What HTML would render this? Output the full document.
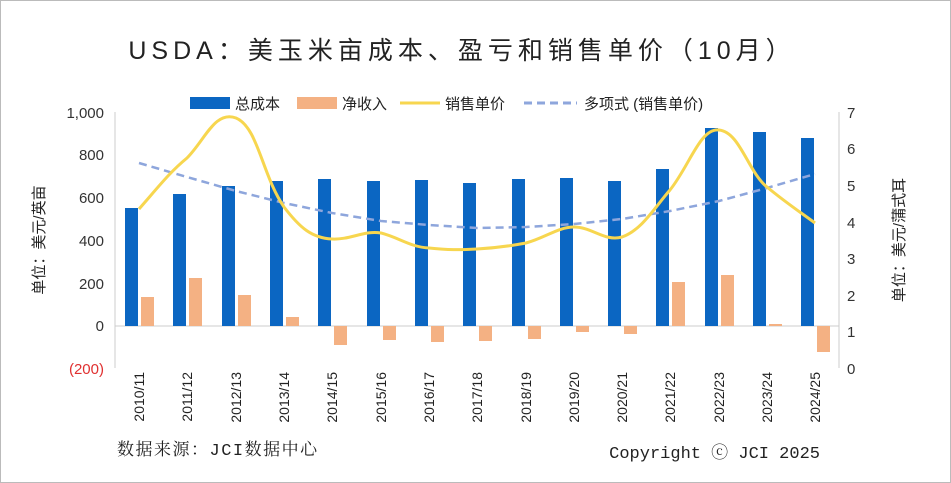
<!DOCTYPE html>
<html><head><meta charset="utf-8"><style>
body{margin:0;background:#fff}
svg{display:block}
text{font-family:"Liberation Sans","Noto Sans CJK SC",sans-serif}
</style></head><body>
<svg width="951" height="483" viewBox="0 0 951 483">
<rect x="0.5" y="0.5" width="950" height="482" fill="#fff" stroke="#bbb"/>
<text x="462" y="59" text-anchor="middle" font-size="25" fill="#222" letter-spacing="5">USDA：美玉米亩成本、盈亏和销售单价（10月）</text>
<!-- legend -->
<rect x="190" y="97" width="40" height="12" fill="#0b66c2"/>
<text x="235" y="109" font-size="15" fill="#222">总成本</text>
<rect x="297" y="97" width="40" height="12" fill="#f4b183"/>
<text x="342" y="109" font-size="15" fill="#222">净收入</text>
<line x1="400" y1="103" x2="440" y2="103" stroke="#f7d64f" stroke-width="3"/>
<text x="445" y="109" font-size="15" fill="#222">销售单价</text>
<line x1="524" y1="103" x2="577" y2="103" stroke="#8ea6dc" stroke-width="3" stroke-dasharray="8,5"/>
<text x="584" y="109" font-size="15" fill="#222">多项式 (销售单价)</text>
<!-- axes -->
<line x1="115" y1="112" x2="115" y2="368" stroke="#ccc"/>
<line x1="839" y1="112" x2="839" y2="368" stroke="#ccc"/>
<line x1="115" y1="326" x2="839" y2="326" stroke="#ccc"/>
<g font-size="15" fill="#333" text-anchor="end">
<text x="104" y="118">1,000</text><text x="104" y="160">800</text><text x="104" y="203">600</text><text x="104" y="246">400</text><text x="104" y="289">200</text><text x="104" y="331">0</text><text x="104" y="374" fill="#e03030">(200)</text>
</g>
<g font-size="15" fill="#333">
<text x="847" y="118">7</text><text x="847" y="154">6</text><text x="847" y="191">5</text><text x="847" y="228">4</text><text x="847" y="264">3</text><text x="847" y="301">2</text><text x="847" y="337">1</text><text x="847" y="374">0</text>
</g>
<text transform="translate(44,240) rotate(-90)" font-size="15" fill="#222" text-anchor="middle">单位：美元/英亩</text>
<text transform="translate(904,240) rotate(-90)" font-size="15" fill="#222" text-anchor="middle">单位：美元/蒲式耳</text>
<!-- bars -->
<g fill="#0b66c2">
<rect x="125" y="208" width="13" height="118"/>
<rect x="173" y="194" width="13" height="132"/>
<rect x="222" y="186" width="13" height="140"/>
<rect x="270" y="181" width="13" height="145"/>
<rect x="318" y="179" width="13" height="147"/>
<rect x="367" y="181" width="13" height="145"/>
<rect x="415" y="180" width="13" height="146"/>
<rect x="463" y="183" width="13" height="143"/>
<rect x="512" y="179" width="13" height="147"/>
<rect x="560" y="178" width="13" height="148"/>
<rect x="608" y="181" width="13" height="145"/>
<rect x="656" y="169" width="13" height="157"/>
<rect x="705" y="128" width="13" height="198"/>
<rect x="753" y="132" width="13" height="194"/>
<rect x="801" y="138" width="13" height="188"/>
</g>
<g fill="#f4b183">
<rect x="141" y="297" width="13" height="29"/>
<rect x="189" y="278" width="13" height="48"/>
<rect x="238" y="295" width="13" height="31"/>
<rect x="286" y="317" width="13" height="9"/>
<rect x="334" y="326" width="13" height="19"/>
<rect x="383" y="326" width="13" height="14"/>
<rect x="431" y="326" width="13" height="16"/>
<rect x="479" y="326" width="13" height="15"/>
<rect x="528" y="326" width="13" height="13"/>
<rect x="576" y="326" width="13" height="6"/>
<rect x="624" y="326" width="13" height="8"/>
<rect x="672" y="282" width="13" height="44"/>
<rect x="721" y="275" width="13" height="51"/>
<rect x="769" y="324" width="13" height="2"/>
<rect x="817" y="326" width="13" height="26"/>
</g>
<!-- trend -->
<polyline fill="none" stroke="#8ea6dc" stroke-width="2.5" stroke-dasharray="8,5" points="139,163 187,177 236,191 284,203 332,213 381,221 429,225 477,228 526,227 574,224 622,219 670,211 719,201 767,188 815,174"/>
<!-- price -->
<path fill="none" stroke="#f7d64f" stroke-width="3" d="M139,209 C160,185 170,172 187,158 C205,140 215,110 236,118 C258,127 262,175 284,207 C300,228 312,238 332,239 C350,240 365,230 381,233 C400,238 410,247 429,248 C448,250 460,250 477,249 C495,248 510,246 526,243 C545,238 558,227 574,227 C592,227 605,242 622,237 C642,230 655,207 670,190 C690,165 700,128 719,130 C740,132 748,172 767,187 C785,202 800,212 815,223"/>
<!-- x labels -->
<g font-size="14" fill="#222" text-anchor="end" style="font-family:'Liberation Mono',monospace">
<text transform="translate(144,372) rotate(-90)">2010/11</text>
<text transform="translate(192,372) rotate(-90)">2011/12</text>
<text transform="translate(241,372) rotate(-90)">2012/13</text>
<text transform="translate(289,372) rotate(-90)">2013/14</text>
<text transform="translate(337,372) rotate(-90)">2014/15</text>
<text transform="translate(386,372) rotate(-90)">2015/16</text>
<text transform="translate(434,372) rotate(-90)">2016/17</text>
<text transform="translate(482,372) rotate(-90)">2017/18</text>
<text transform="translate(531,372) rotate(-90)">2018/19</text>
<text transform="translate(579,372) rotate(-90)">2019/20</text>
<text transform="translate(627,372) rotate(-90)">2020/21</text>
<text transform="translate(675,372) rotate(-90)">2021/22</text>
<text transform="translate(724,372) rotate(-90)">2022/23</text>
<text transform="translate(772,372) rotate(-90)">2023/24</text>
<text transform="translate(820,372) rotate(-90)">2024/25</text>
</g>
<text x="117" y="455" font-size="17" fill="#222" letter-spacing="1.5" style="font-family:'Liberation Mono','Noto Serif CJK SC',monospace">数据来源：JCI数据中心</text>
<text x="820" y="458" font-size="17" fill="#222" text-anchor="end" style="font-family:'Liberation Mono','Noto Serif CJK SC',monospace">Copyright ⓒ JCI 2025</text>
</svg>
</body></html>
